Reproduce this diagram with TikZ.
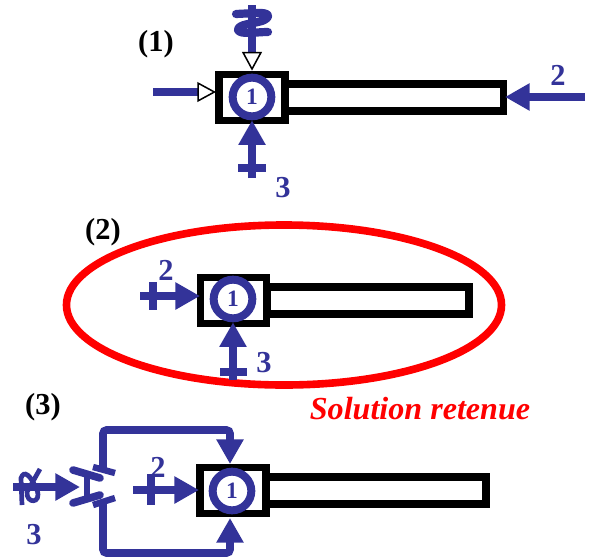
\documentclass[tikz,border=0pt]{standalone}
\usepackage{fontspec}
\setmainfont{Liberation Serif}
\usetikzlibrary{arrows.meta}
\usetikzlibrary{shapes.geometric}
\definecolor{bleu}{HTML}{333399}
\tikzset{
	bloc/.style = {draw, line width = 6pt, minimum width = 1.98cm, minimum height = 1.4cm, inner sep = 0pt},
	tige/.style = {draw, line width = 6.8pt, minimum height = 0.82cm, inner sep = 0pt, anchor = west},
	galet/.style = {draw = bleu, circle, line width = 6.8pt, minimum size = 1.16cm, inner sep = 0pt, text = bleu, font = \bfseries\fontsize{20}{20}\selectfont},
	repere/.style = {font = \bfseries\fontsize{26}{26}\selectfont, inner sep = 0pt},
	num/.style = {text = bleu, font = \bfseries\fontsize{26}{26}\selectfont, inner sep = 0pt},
	fleche/.style = {draw = bleu, line width = 6.5pt, -{Triangle[length = 21pt, width = 22pt]}},
	ferme/.style = {draw = bleu, line width = 6.5pt, -{Triangle[open, fill = white, color = black, line width = 1.3pt, length = 16pt, width = 17pt]}},
	trait/.style = {draw = bleu, line width = 7pt},
	rond/.style = {draw = bleu, line width = 6.5pt, line cap = round, line join = round},
}
\begin{document}
\begin{tikzpicture}[x = 0.03cm, y = -0.03cm]
	\useasboundingbox (0,0) rectangle (596,558);
	% ---- (1)
	\node[repere] (rep1) at (156,44) {(1)};
	\node[bloc] (blocA) at (252,97.5) {};
	\node[tige, minimum width = 6.54cm] (tigeA) at ([xshift = -6pt]blocA.east) {};
	\node[galet] (galetA) at (252,97) {1};
	\coordinate (hautA) at (252,5);
	\coordinate (gaucheA) at (153,92);
	\coordinate (blocAg) at (216,92);
	\coordinate (basA) at (252,178);
	\coordinate (droiteA) at (585,97);
	\coordinate (tigeAd) at (505,97);
	\draw[ferme] (hautA) -- (blocA.north);
	\draw[ferme] (gaucheA) -- (blocAg);
	\draw[fleche] (basA) -- (galetA.south);
	\draw[fleche] (droiteA) -- (tigeAd);
	% taquets
	\draw[trait] (238,168) -- (266,168);
	\draw[rond, line width = 7pt] (236,14) -- (256,13) .. controls (272,12) and (270,18) .. (262,21) .. controls (252,24) and (238,24) .. (238,30) .. controls (240,35) and (256,32) .. (268,32);
	\node[num] (numA2) at (558,75) {2};
	\node[num] (numA3) at (283,188) {3};
	% ---- (2)
	\node[repere] (rep2) at (103,232) {(2)};
	\node[draw = red, ellipse, line width = 6.5pt, minimum width = 13.05cm, minimum height = 4.8cm, inner sep = 0pt] (choix) at (284,305) {};
	\node[bloc] (blocB) at (233.5,300.5) {};
	\node[tige, minimum width = 6.07cm] (tigeB) at ([xshift = -6pt]blocB.east) {};
	\node[galet] (galetB) at (233,299) {1};
	\coordinate (gaucheB) at (140,296);
	\coordinate (blocBg) at (200,296);
	\coordinate (basB) at (233,380);
	\draw[fleche] (gaucheB) -- (blocBg);
	\draw[fleche] (basB) -- (galetB.south);
	\draw[trait] (153,282) -- (153,310);
	\draw[trait] (220,372) -- (247,372);
	\node[num] (numB2) at (166,270) {2};
	\node[num] (numB3) at (264,363) {3};
	\node[text = red, inner sep = 0pt, font = \bfseries\itshape\fontsize{27.4}{27.4}\selectfont] (retenue) at (420,409) {Solution retenue};
	% ---- (3)
	\node[repere] (rep3) at (43,407) {(3)};
	\node[bloc] (blocC) at (233,490.5) {};
	\node[tige, minimum width = 6.58cm] (tigeC) at ([xshift = -6pt]blocC.east) {};
	\node[galet] (galetC) at (232,491) {1};
	\coordinate (gaucheC) at (13,487);
	\coordinate (tiroir) at (80,487);
	\coordinate (milieuC) at (133,490);
	\coordinate (blocCg) at (199,490);
	\coordinate (sortieH) at (103,468);
	\coordinate (sortieB) at (103,503);
	\coordinate (coinH) at (103,430);
	\coordinate (coinB) at (103,553);
	\coordinate (blocCh) at (230,464);
	\coordinate (blocCb) at (230,518);
	\draw[fleche] (gaucheC) -- (tiroir);
	\draw[fleche] (milieuC) -- (blocCg);
	\draw[fleche, rounded corners = 3pt] (sortieH) -- (coinH) -- (coinH -| blocCh) -- (blocCh);
	\draw[fleche, rounded corners = 3pt] (sortieB) -- (coinB) -- (coinB -| blocCb) -- (blocCb);
	% distributeur
	\draw[rond] (73,470) -- (100,478);
	\draw[rond] (73,503) -- (100,495);
	\draw[trait, line width = 5pt] (87,474) -- (87,499);
	\draw[trait, line width = 5.5pt] (93,467) -- (115,473);
	\draw[trait, line width = 5.5pt] (93,505) -- (115,498);
	\draw[trait] (151,474) -- (151,505);
	\draw[trait, line width = 4pt] (22,505) -- (21,478) .. controls (24,470) and (30,474) .. (37,490) .. controls (42,504) and (26,504) .. (27,492) -- (40,469);
	\node[num] (numC2) at (158,467) {2};
	\node[num] (numC3) at (34,535) {3};
\end{tikzpicture}
\end{document}
